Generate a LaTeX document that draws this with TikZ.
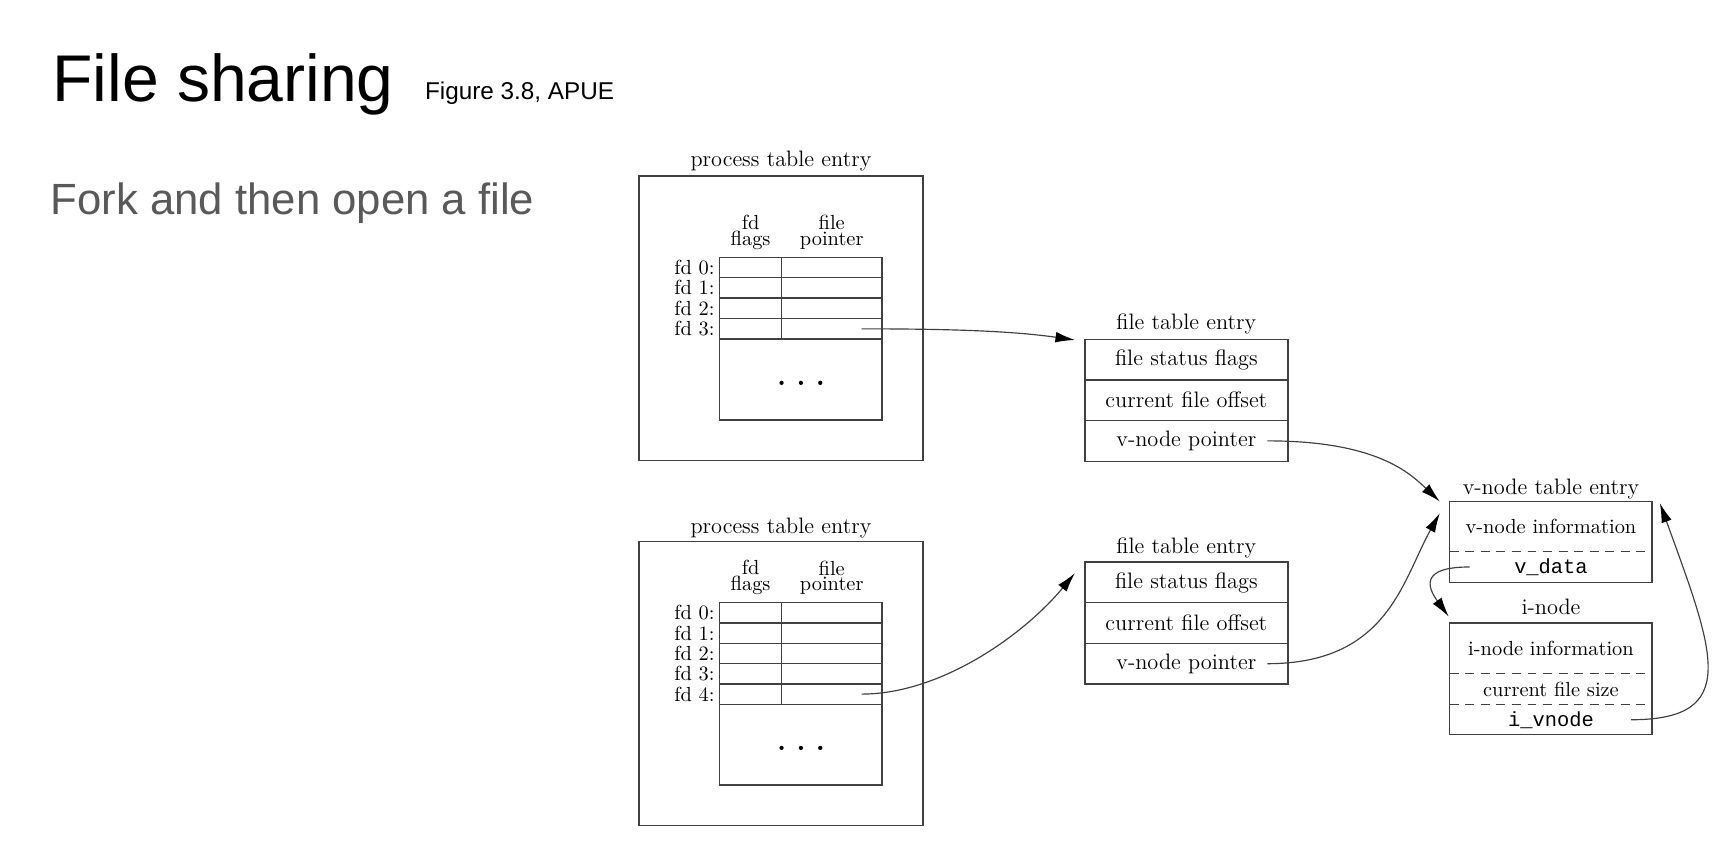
\documentclass[tikz,border=0pt]{standalone}
\usepackage{fontspec}
\newfontfamily\arialfont{Liberation Sans}
\setmonofont{Liberation Mono}
\usetikzlibrary{arrows.meta,positioning,calc}

\tikzset{
  boxline/.style={draw=black!75, line width=0.7pt},
  box/.style={boxline, inner sep=0pt, outer sep=0pt, anchor=north west},
  ftrow/.style={box, minimum width=3.672cm, minimum height=0.735cm, font=\fontsize{11.5}{13}\selectfont},
  fdcell/.style={box, minimum height=0.37cm},
  ttl/.style={anchor=base, inner sep=0pt, font=\fontsize{11.5}{13}\selectfont},
  fdlbl/.style={anchor=east, inner sep=0pt, xshift=-2.5pt, font=\fontsize{10.5}{12}\selectfont},
  hdr/.style={anchor=south, inner sep=0pt, align=center, font=\fontsize{10.5}{8.2}\selectfont},
  vpart/.style={inner sep=0pt, outer sep=0pt, anchor=north west, minimum width=3.66cm, font=\fontsize{10.5}{12}\selectfont},
  mono/.style={font=\ttfamily\fontsize{10.5}{12}\selectfont},
  dashes/.style={dash pattern=on 4.6pt off 3.4pt},
  ptr/.style={draw=black!75, line width=0.6pt, -{Latex[length=10pt,width=5.5pt,color=black]}},
}

\begin{document}
% pixel grid of the slide, y grows downwards
\begin{tikzpicture}[x=0.02cm,y=-0.02cm]
\path[use as bounding box, fill=white] (0,0) rectangle (1568,779.5);

% slide titles
\node[anchor=base west, inner sep=0pt, font=\arialfont\fontsize{34}{40}\selectfont] (title) at (47,92) {File sharing};
\node[anchor=base west, inner sep=0pt, font=\arialfont\fontsize{12.5}{15}\selectfont] (figref) at (384,90.4) {Figure 3.8, APUE};
\node[anchor=base west, inner sep=0pt, text=black!65, font=\arialfont\fontsize{22.5}{27}\selectfont] (subtitle) at (45.5,194.4) {Fork and then open a file};

% parent process
\node[box, minimum width=5.14cm, minimum height=5.148cm] (proc1) at (577.7,159.1) {};
\node[ttl] (proc1ttl) at ($(proc1.north)+(0,-8.4)$) {process table entry};
\foreach \i in {0,...,3} {
  \node[fdcell, minimum width=1.114cm] (upflag\i) at (650.9,232.6+18.5*\i) {};
  \node[fdcell, minimum width=1.82cm] (upptr\i) at (upflag\i.north east) {};
  \node[fdlbl] (uplbl\i) at (upflag\i.west) {fd \i:};
}
\node[box, minimum width=2.934cm, minimum height=1.464cm] (uprest) at (upflag3.south west) {};
\foreach \d in {-17.5,0,17.5}
  \fill ($(uprest.center)+(\d,3)$) circle[radius=1.1pt];
\node[hdr] (upflaghd) at ($(upflag0.north)+(0,-6.5)$) {fd\\flags};
\node[hdr] (upptrhd) at ($(upptr0.north)+(0,-6.5)$) {file\\pointer};

% child process
\node[box, minimum width=5.14cm, minimum height=5.14cm] (proc2) at (577.7,489.7) {};
\node[ttl] (proc2ttl) at ($(proc2.north)+(0,-7.7)$) {process table entry};
\foreach \i in {0,...,4} {
  \node[fdcell, minimum width=1.114cm] (lowflag\i) at (650.9,544.8+18.4*\i) {};
  \node[fdcell, minimum width=1.82cm] (lowptr\i) at (lowflag\i.north east) {};
  \node[fdlbl] (lowlbl\i) at (lowflag\i.west) {fd \i:};
}
\node[box, minimum width=2.934cm, minimum height=1.456cm] (lowrest) at (lowflag4.south west) {};
\foreach \d in {-17.5,0,17.5}
  \fill ($(lowrest.center)+(\d,3)$) circle[radius=1.1pt];
\node[hdr] (lowflaghd) at ($(lowflag0.north)+(0,-6.5)$) {fd\\flags};
\node[hdr] (lowptrhd) at ($(lowptr0.north)+(0,-6.5)$) {file\\pointer};

% file table entries
\node[ftrow] (fsf1) at (981,306.8) {file status flags};
\node[ftrow, below=0pt of fsf1] (cfo1) {current file offset};
\node[ftrow, below=0pt of cfo1] (vnp1) {v-node pointer};
\node[ttl] (ft1ttl) at ($(fsf1.north)+(0,-8.5)$) {file table entry};

\node[ftrow] (fsf2) at (981,508.3) {file status flags};
\node[ftrow, below=0pt of fsf2] (cfo2) {current file offset};
\node[ftrow, below=0pt of cfo2] (vnp2) {v-node pointer};
\node[ttl] (ft2ttl) at ($(fsf2.north)+(0,-7.5)$) {file table entry};

% v-node table entry
\node[vpart, minimum height=0.904cm] (vinfo) at (1311,453.5) {v-node information};
\node[vpart, mono, minimum height=0.56cm, below=0pt of vinfo] (vdata) {v\_data};
\draw[boxline] (vinfo.north west) rectangle (vdata.south east);
\draw[boxline, dashes] (vinfo.south west) -- (vinfo.south east);
\node[ttl] (vttl) at ($(vinfo.north)+(0,-6)$) {v-node table entry};

% i-node
\node[vpart, minimum height=0.916cm] (iinfo) at (1311,563.5) {i-node information};
\node[vpart, minimum height=0.56cm, below=0pt of iinfo] (isize) {current file size};
\node[vpart, mono, minimum height=0.542cm, below=0pt of isize] (ivn) {i\_vnode};
\draw[boxline] (iinfo.north west) rectangle (ivn.south east);
\draw[boxline, dashes] (iinfo.south west) -- (iinfo.south east);
\draw[boxline, dashes] (isize.south west) -- (isize.south east);
\node[ttl] (ittl) at ($(iinfo.north)+(0,-7.5)$) {i-node};

% pointers
\draw[ptr] ($(upptr3.center)+(27,0)$) .. controls +(91,0) and +(-52,-7.4) .. ($(fsf1.north west)+(-9,0.6)$);
\draw[ptr] ($(lowptr4.center)+(27,0)$) .. controls +(71,0) and +(-47,56.7) .. ($(fsf2.north west)+(-9,10)$);
\draw[ptr] ($(vnp1.east)+(-18.6,0)$) .. controls +(99,0) and +(-27,-25.5) .. ($(vinfo.north west)+(-9,0)$);
\draw[ptr] ($(vnp2.east)+(-18.6,0)$) .. controls +(109,0) and +(-34,61) .. ($(vinfo.north west)+(-9,10.5)$);
\draw[ptr] ($(vdata.west)+(18,0)$) .. controls +(-44,0) and +(-20,-27.5) .. ($(iinfo.north west)+(-1,-6)$);
\draw[ptr] ($(ivn.east)+(-19,0)$) .. controls +(100,0) and +(49,135) .. ($(vinfo.north east)+(7,1.5)$);
\end{tikzpicture}
\end{document}
